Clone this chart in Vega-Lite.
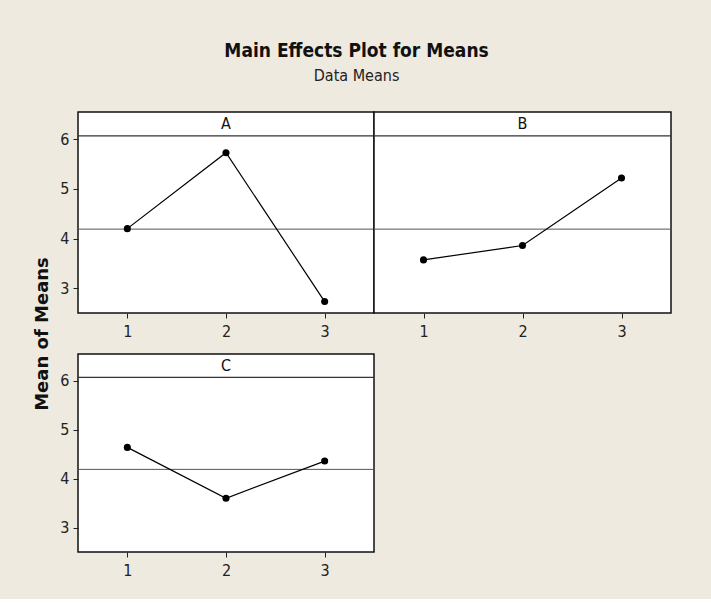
{
  "$schema": "https://vega.github.io/schema/vega-lite/v6.json",
  "background": "#EEEAE0",
  "padding": {"left": 32, "top": 42, "right": 38, "bottom": 20},
  "title": {
    "text": "Main Effects Plot for Means",
    "subtitle": "Data Means",
    "font": "DejaVu Sans Condensed, sans-serif",
    "fontSize": 19,
    "fontWeight": "bold",
    "color": "#111111",
    "subtitleFont": "DejaVu Sans Condensed, sans-serif",
    "subtitleFontSize": 16,
    "subtitleColor": "#222222",
    "subtitlePadding": 7,
    "offset": 27,
    "dx": 4,
    "anchor": "middle"
  },
  "datasets": {
    "means": [
      {"factor": "A", "level": 1, "mean": 4.20},
      {"factor": "A", "level": 2, "mean": 5.73},
      {"factor": "A", "level": 3, "mean": 2.73},
      {"factor": "B", "level": 1, "mean": 3.57},
      {"factor": "B", "level": 2, "mean": 3.86},
      {"factor": "B", "level": 3, "mean": 5.22},
      {"factor": "C", "level": 1, "mean": 4.64},
      {"factor": "C", "level": 2, "mean": 3.60},
      {"factor": "C", "level": 3, "mean": 4.36}
    ],
    "panels": [
      {"factor": "A", "grand": 4.19},
      {"factor": "B", "grand": 4.19},
      {"factor": "C", "grand": 4.19}
    ]
  },
  "columns": 2,
  "bounds": "flush",
  "spacing": {"row": 41, "column": 0},
  "concat": [
    {
      "width": 296,
      "height": 201,
      "layer": [
        {
          "data": {"name": "panels"},
          "transform": [{"filter": "datum.factor == 'A'"}],
          "mark": {"type": "rule", "color": "#555555", "strokeWidth": 1},
          "encoding": {"y": {"field": "grand", "type": "quantitative", "scale": {"domain": [2.5, 6.55], "nice": false, "zero": false},
              "axis": {"values": [3, 4, 5, 6], "format": "d", "title": "Mean of Means",
                "titleFont": "DejaVu Sans", "titleFontSize": 18, "titleFontWeight": "bold", "titleColor": "#111111",
                "titleX": -35.5, "titleY": 221.5, "titleAngle": 270, "titleAlign": "center", "titleBaseline": "middle"}}}
        },
        {
          "data": {"name": "panels"},
          "transform": [{"filter": "datum.factor == 'A'"}],
          "mark": {"type": "rule", "color": "#333333", "strokeWidth": 1.2},
          "encoding": {"y": {"datum": 6.07, "type": "quantitative", "scale": {"domain": [2.5, 6.55], "nice": false, "zero": false},
              "axis": {"values": [3, 4, 5, 6], "format": "d", "title": "Mean of Means",
                "titleFont": "DejaVu Sans", "titleFontSize": 18, "titleFontWeight": "bold", "titleColor": "#111111",
                "titleX": -35.5, "titleY": 221.5, "titleAngle": 270, "titleAlign": "center", "titleBaseline": "middle"}}}
        },
        {
          "data": {"name": "panels"},
          "transform": [{"filter": "datum.factor == 'A'"}],
          "mark": {"type": "text", "font": "DejaVu Sans Condensed, sans-serif", "fontSize": 16, "color": "#111111", "baseline": "middle"},
          "encoding": {
            "y": {"datum": 6.3, "type": "quantitative", "scale": {"domain": [2.5, 6.55], "nice": false, "zero": false},
              "axis": {"values": [3, 4, 5, 6], "format": "d", "title": "Mean of Means",
                "titleFont": "DejaVu Sans", "titleFontSize": 18, "titleFontWeight": "bold", "titleColor": "#111111",
                "titleX": -35.5, "titleY": 221.5, "titleAngle": 270, "titleAlign": "center", "titleBaseline": "middle"}},
            "text": {"field": "factor", "type": "nominal"}
          }
        },
        {
          "data": {"name": "means"},
          "transform": [{"filter": "datum.factor == 'A'"}],
          "mark": {"type": "line", "color": "black", "strokeWidth": 1.2, "point": {"filled": true, "color": "black", "size": 50, "opacity": 1}},
          "encoding": {
            "x": {"field": "level", "type": "quantitative", "scale": {"domain": [0.5, 3.5], "nice": false, "zero": false}, "axis": {"values": [1, 2, 3], "format": "d", "title": null}},
            "y": {"field": "mean", "type": "quantitative", "scale": {"domain": [2.5, 6.55], "nice": false, "zero": false},
              "axis": {"values": [3, 4, 5, 6], "format": "d", "title": "Mean of Means",
                "titleFont": "DejaVu Sans", "titleFontSize": 18, "titleFontWeight": "bold", "titleColor": "#111111",
                "titleX": -35.5, "titleY": 221.5, "titleAngle": 270, "titleAlign": "center", "titleBaseline": "middle"}}
          }
        }
      ]
    },
    {
      "width": 297,
      "height": 201,
      "layer": [
        {
          "data": {"name": "panels"},
          "transform": [{"filter": "datum.factor == 'B'"}],
          "mark": {"type": "rule", "color": "#555555", "strokeWidth": 1},
          "encoding": {"y": {"field": "grand", "type": "quantitative", "scale": {"domain": [2.5, 6.55], "nice": false, "zero": false}, "axis": null}}
        },
        {
          "data": {"name": "panels"},
          "transform": [{"filter": "datum.factor == 'B'"}],
          "mark": {"type": "rule", "color": "#333333", "strokeWidth": 1.2},
          "encoding": {"y": {"datum": 6.07, "type": "quantitative", "scale": {"domain": [2.5, 6.55], "nice": false, "zero": false}, "axis": null}}
        },
        {
          "data": {"name": "panels"},
          "transform": [{"filter": "datum.factor == 'B'"}],
          "mark": {"type": "text", "font": "DejaVu Sans Condensed, sans-serif", "fontSize": 16, "color": "#111111", "baseline": "middle"},
          "encoding": {
            "y": {"datum": 6.3, "type": "quantitative", "scale": {"domain": [2.5, 6.55], "nice": false, "zero": false}, "axis": null},
            "text": {"field": "factor", "type": "nominal"}
          }
        },
        {
          "data": {"name": "means"},
          "transform": [{"filter": "datum.factor == 'B'"}],
          "mark": {"type": "line", "color": "black", "strokeWidth": 1.2, "point": {"filled": true, "color": "black", "size": 50, "opacity": 1}},
          "encoding": {
            "x": {"field": "level", "type": "quantitative", "scale": {"domain": [0.5, 3.5], "nice": false, "zero": false}, "axis": {"values": [1, 2, 3], "format": "d", "title": null}},
            "y": {"field": "mean", "type": "quantitative", "scale": {"domain": [2.5, 6.55], "nice": false, "zero": false}, "axis": null}
          }
        }
      ]
    },
    {
      "width": 296,
      "height": 198,
      "layer": [
        {
          "data": {"name": "panels"},
          "transform": [{"filter": "datum.factor == 'C'"}],
          "mark": {"type": "rule", "color": "#555555", "strokeWidth": 1},
          "encoding": {"y": {"field": "grand", "type": "quantitative", "scale": {"domain": [2.5, 6.55], "nice": false, "zero": false}, "axis": {"values": [3, 4, 5, 6], "format": "d", "title": null}}}
        },
        {
          "data": {"name": "panels"},
          "transform": [{"filter": "datum.factor == 'C'"}],
          "mark": {"type": "rule", "color": "#333333", "strokeWidth": 1.2},
          "encoding": {"y": {"datum": 6.07, "type": "quantitative", "scale": {"domain": [2.5, 6.55], "nice": false, "zero": false}, "axis": {"values": [3, 4, 5, 6], "format": "d", "title": null}}}
        },
        {
          "data": {"name": "panels"},
          "transform": [{"filter": "datum.factor == 'C'"}],
          "mark": {"type": "text", "font": "DejaVu Sans Condensed, sans-serif", "fontSize": 16, "color": "#111111", "baseline": "middle"},
          "encoding": {
            "y": {"datum": 6.3, "type": "quantitative", "scale": {"domain": [2.5, 6.55], "nice": false, "zero": false}, "axis": {"values": [3, 4, 5, 6], "format": "d", "title": null}},
            "text": {"field": "factor", "type": "nominal"}
          }
        },
        {
          "data": {"name": "means"},
          "transform": [{"filter": "datum.factor == 'C'"}],
          "mark": {"type": "line", "color": "black", "strokeWidth": 1.2, "point": {"filled": true, "color": "black", "size": 50, "opacity": 1}},
          "encoding": {
            "x": {"field": "level", "type": "quantitative", "scale": {"domain": [0.5, 3.5], "nice": false, "zero": false}, "axis": {"values": [1, 2, 3], "format": "d", "title": null}},
            "y": {"field": "mean", "type": "quantitative", "scale": {"domain": [2.5, 6.55], "nice": false, "zero": false}, "axis": {"values": [3, 4, 5, 6], "format": "d", "title": null}}
          }
        }
      ]
    }
  ],
  "config": {
    "view": {"stroke": "#111111", "strokeWidth": 1.5, "fill": "white"},
    "axis": {
      "domain": false,
      "grid": false,
      "ticks": true,
      "tickColor": "#222222",
      "tickSize": 5,
      "tickWidth": 1,
      "labelFont": "DejaVu Sans Condensed, sans-serif",
      "labelFontSize": 16,
      "labelColor": "#222222",
      "labelPadding": 4
    },
    "axisX": {"labelPadding": 5}
  }
}
